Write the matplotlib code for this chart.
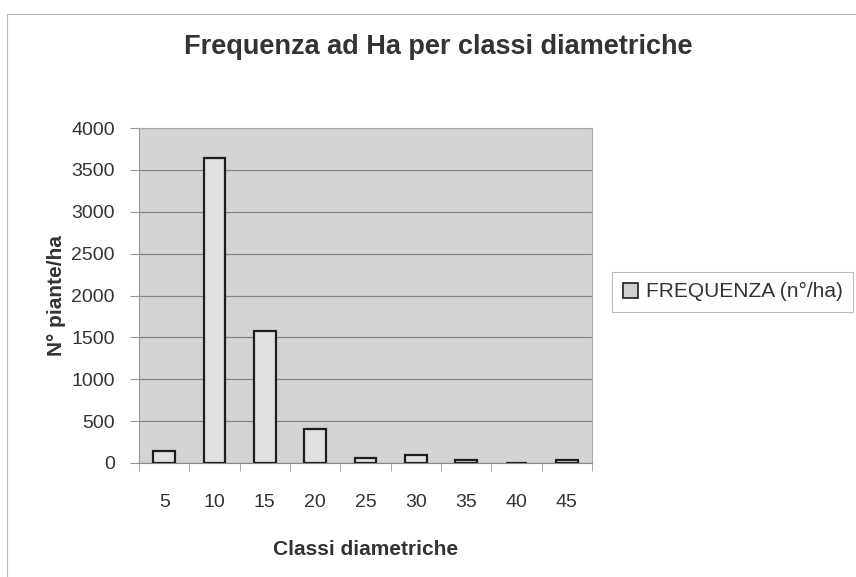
import numpy as np
import matplotlib.pyplot as plt
from matplotlib.patches import Rectangle

# Diameter classes (cm) and frequency per hectare
classi = ["5", "10", "15", "20", "25", "30", "35", "40", "45"]
frequenza = [140, 3640, 1575, 400, 60, 90, 30, 0, 40]

plt.rcParams["font.family"] = ["Liberation Sans", "DejaVu Sans"]

fig = plt.figure(figsize=(8.56, 5.77), dpi=100)
fig.patch.set_facecolor("white")
ax = fig.add_axes([0.1624, 0.1976, 0.5292, 0.5804])
ax.set_facecolor("#d4d4d4")

x = np.arange(len(classi))
ax.bar(x, frequenza, width=0.43, color="#e0e0e0", edgecolor="#1e1e1e",
       linewidth=1.6, label="FREQUENZA (n°/ha)", zorder=3)

ax.set_xlim(-0.5, len(classi) - 0.5)
ax.set_ylim(0, 4000)
ax.set_yticks(np.arange(0, 4001, 500))
ax.yaxis.grid(True, color="#858585", linewidth=0.9, zorder=1)
ax.set_axisbelow(True)

ax.set_xticks(x)
ax.set_xticklabels(classi)
ax.set_xticks(np.arange(-0.5, len(classi)), minor=True)
ax.tick_params(axis="x", which="major", length=0, pad=22, labelsize=14,
               labelcolor="#333333")
ax.tick_params(axis="x", which="minor", length=6, color="#999999")
ax.tick_params(axis="y", length=6.5, color="#999999", labelsize=14,
               pad=11, labelcolor="#333333")

for s in ["top", "right"]:
    ax.spines[s].set_color("#aaaaaa")
    ax.spines[s].set_linewidth(0.8)
ax.spines["left"].set_color("#999999")
ax.spines["bottom"].set_color("#888888")

ax.set_xlabel("Classi diametriche", fontsize=15, fontweight="bold",
              color="#333333", labelpad=21)
ax.set_ylabel("N° piante/ha", fontsize=15, fontweight="bold",
              color="#333333", labelpad=4)

fig.text(0.512, 0.918, "Frequenza ad Ha per classi diametriche",
         ha="center", va="center", fontsize=19.5, fontweight="bold",
         color="#333333")

leg = ax.legend(loc="center left", bbox_to_anchor=(0.703, 0.494),
                bbox_transform=fig.transFigure, frameon=True, fancybox=False,
                fontsize=15, handlelength=0.75, handleheight=0.75,
                handletextpad=0.35, borderpad=0.5)
leg.get_frame().set_edgecolor("#aaaaaa")
leg.get_frame().set_linewidth(0.8)
for t in leg.get_texts():
    t.set_color("#333333")
for h in leg.legend_handles:
    h.set_facecolor("#cfcfcf")
    h.set_linewidth(1.2)

# outer chart frame
fig.patches.append(Rectangle((0.008, -0.01), 1.1, 0.985, transform=fig.transFigure,
                             fill=False, edgecolor="#bbbbbb", linewidth=0.8))

fig.savefig("out.png", dpi=100)
